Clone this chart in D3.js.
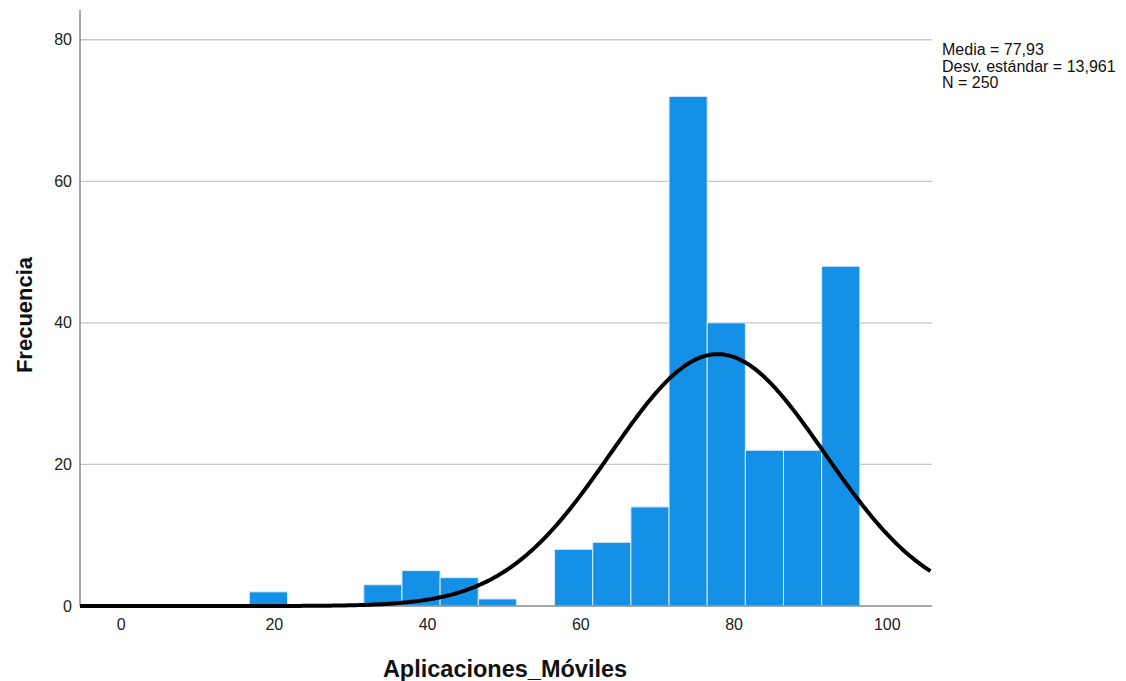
<!DOCTYPE html>
<html>
<head>
<meta charset="utf-8">
<script src="https://cdn.jsdelivr.net/npm/d3@7"></script>
<style>
  body { margin: 0; background: #fff; }
  text { font-family: "Liberation Sans", Arial, sans-serif; }
</style>
</head>
<body>
<div class="chart"></div>
<script>
const width = 1126,
      height = 681;

// histogram data
const binStart = 16.8, binWidth = 4.98;
const binIndex = [0, 3, 4, 5, 6, 8, 9, 10, 11, 12, 13, 14, 15];
const counts   = [2, 3, 5, 4, 1, 8, 9, 14, 72, 40, 22, 22, 48];
const xTicks = [0, 20, 40, 60, 80, 100];
const yTicks = [0, 20, 40, 60, 80];
const stats = ["Media = 77,93", "Desv. estándar = 13,961", "N = 250"];
const mean = 77.93, sd = 13.961, n = 250;

const margin = {left: 80, right: 194, top: 10, bottom: 75};

const x = d3.scaleLinear()
            .domain([-5.3, 105.9])
            .range([margin.left, width - margin.right]);
const y = d3.scaleLinear()
            .domain([0, 84.2])
            .range([606, margin.top]);

const svg = d3.select(".chart")
              .append("svg")
              .attr("width", width)
              .attr("height", height);

// gridlines
svg.append("g").selectAll("line").data(yTicks.filter(d => d > 0)).enter()
   .append("line")
   .attr("x1", x.range()[0]).attr("x2", x.range()[1])
   .attr("y1", d => y(d)).attr("y2", d => y(d))
   .attr("stroke", "#c6c6c6").attr("stroke-width", 1.3);

// bars
svg.append("g").selectAll("rect").data(counts).enter()
   .append("rect")
   .attr("x", (d, i) => x(binStart + binIndex[i] * binWidth))
   .attr("width", (d, i) => x(binStart + (binIndex[i] + 1) * binWidth) - x(binStart + binIndex[i] * binWidth))
   .attr("y", d => y(d))
   .attr("height", d => y(0) - y(d))
   .attr("fill", "#1490e6")
   .attr("stroke", "#d8ecfb")
   .attr("stroke-width", 1);

// axes
const yAxis = svg.append("g")
   .attr("transform", "translate(" + margin.left + ",0)")
   .call(d3.axisLeft(y).tickValues(yTicks).tickSize(0).tickPadding(8));
yAxis.select(".domain").remove();
yAxis.selectAll("text").attr("font-size", 16).attr("fill", "#222")
     .attr("font-family", "Liberation Sans, Arial, sans-serif");

const xAxis = svg.append("g")
   .attr("transform", "translate(0," + y(0) + ")")
   .call(d3.axisBottom(x).tickValues(xTicks).tickSize(0).tickPadding(13));
xAxis.select(".domain").remove();
xAxis.selectAll("text").attr("font-size", 16).attr("fill", "#222")
     .attr("font-family", "Liberation Sans, Arial, sans-serif");

svg.append("line")
   .attr("x1", margin.left).attr("x2", margin.left)
   .attr("y1", margin.top).attr("y2", y(0))
   .attr("stroke", "#8a8a8a").attr("stroke-width", 1.5);
svg.append("line")
   .attr("x1", margin.left).attr("x2", x.range()[1])
   .attr("y1", y(0)).attr("y2", y(0))
   .attr("stroke", "#8a8a8a").attr("stroke-width", 1.5);

// normal curve
const pts = d3.range(-5.3, 105.95, 0.25);
const pdf = v => n * binWidth * Math.exp(-0.5 * Math.pow((v - mean) / sd, 2)) / (sd * Math.sqrt(2 * Math.PI));
svg.append("path")
   .datum(pts)
   .attr("fill", "none")
   .attr("stroke", "#000")
   .attr("stroke-width", 4)
   .attr("d", d3.line().x(d => x(d)).y(d => y(pdf(d))));

// titles
svg.append("text")
   .attr("transform", "translate(32," + 315 + ")rotate(-90)")
   .attr("text-anchor", "middle")
   .attr("font-size", 22).attr("font-weight", "bold").attr("fill", "#111")
   .text("Frecuencia");
svg.append("text")
   .attr("x", 505).attr("y", 677)
   .attr("text-anchor", "middle")
   .attr("font-size", 23.5).attr("font-weight", "bold").attr("fill", "#111")
   .text("Aplicaciones_Móviles");

// stats box
svg.append("g").selectAll("text").data(stats).enter()
   .append("text")
   .attr("x", 942).attr("y", (d, i) => 55 + i * 16.5)
   .attr("font-size", 16).attr("fill", "#111")
   .text(d => d);
</script>
</body>
</html>
